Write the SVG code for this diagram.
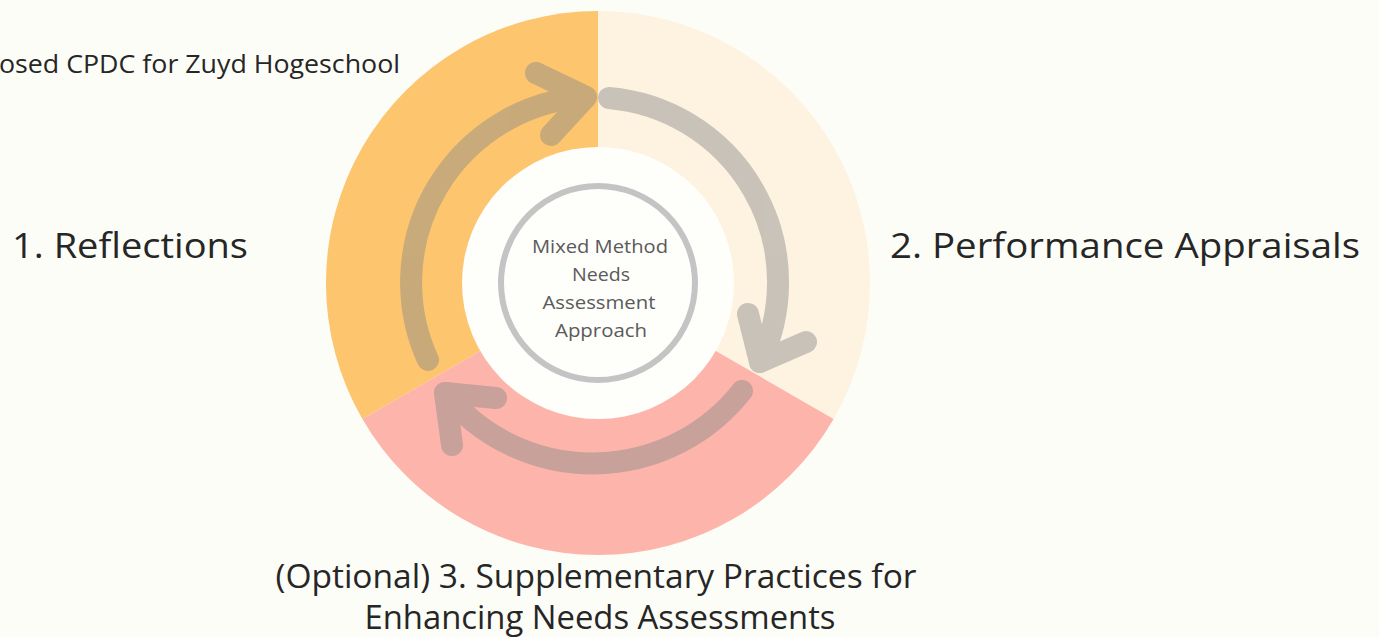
<svg xmlns="http://www.w3.org/2000/svg" width="1379" height="637" viewBox="0 0 1379 637">
  <style>
    .label { font-family: "Open Sans", "Liberation Sans", sans-serif; fill: #262626; }
    .core { font-family: "Open Sans", "Liberation Sans", sans-serif; fill: #5a5a5a; font-size: 19px; text-anchor: middle; }
    .flow { fill: none; stroke: #898989; stroke-width: 22; stroke-linecap: round; stroke-linejoin: round; }
  </style>
  <rect width="1379" height="637" fill="#fdfdf8"/>

  <!-- partial title at top-left -->
  <text class="label" x="-1" y="73" font-size="26" textLength="401" lengthAdjust="spacingAndGlyphs">osed CPDC for Zuyd Hogeschool</text>

  <!-- ring sectors -->
  <g id="sector-reflections">
    <path d="M598,283 L362.4,419 A272,272 0 0 1 598,11 Z" fill="#fdc56e"/>
  </g>
  <g id="sector-appraisals">
    <path d="M598,283 L598,11 A272,272 0 0 1 833.6,419 Z" fill="#fef2e1"/>
  </g>
  <g id="sector-supplementary">
    <path d="M598,283 L833.6,419 A272,272 0 0 1 362.4,419 Z" fill="#fdb5ab"/>
  </g>

  <!-- cycle arrows -->
  <g id="connectors" opacity="0.45">
    <path class="flow" d="M428,360 A186,186 0 0 1 584,97"/>
    <path class="flow" d="M536,73 L586,97 L551,135"/>
    <path class="flow" d="M609,98 A185,185 0 0 1 760,362"/>
    <path class="flow" d="M748,314 L760,362 L806,342"/>
    <path class="flow" d="M742,391 A190,190 0 0 1 445,393"/>
    <path class="flow" d="M496,398 L445,393 L452,445"/>
  </g>

  <!-- center hub -->
  <g id="hub">
    <circle cx="598" cy="283" r="136" fill="#fefefb"/>
    <circle cx="598" cy="283" r="97" fill="#fefefb" stroke="#c4c4c4" stroke-width="6"/>
    <text class="core" x="600" y="253" textLength="136" lengthAdjust="spacingAndGlyphs">Mixed Method</text>
    <text class="core" x="601" y="281" textLength="58" lengthAdjust="spacingAndGlyphs">Needs</text>
    <text class="core" x="599" y="309" textLength="113" lengthAdjust="spacingAndGlyphs">Assessment</text>
    <text class="core" x="601" y="337" textLength="92" lengthAdjust="spacingAndGlyphs">Approach</text>
  </g>

  <g id="label-reflections">
    <text class="label" x="12" y="258" font-size="35" textLength="236" lengthAdjust="spacingAndGlyphs">1. Reflections</text>
  </g>
  <g id="label-appraisals">
    <text class="label" x="890" y="258" font-size="35" textLength="470" lengthAdjust="spacingAndGlyphs">2. Performance Appraisals</text>
  </g>
  <g id="label-supplementary">
    <text class="label" x="596" y="588" font-size="32" text-anchor="middle" textLength="641" lengthAdjust="spacingAndGlyphs">(Optional) 3. Supplementary Practices for</text>
    <text class="label" x="600" y="629" font-size="32" text-anchor="middle" textLength="471" lengthAdjust="spacingAndGlyphs">Enhancing Needs Assessments</text>
  </g>
</svg>
